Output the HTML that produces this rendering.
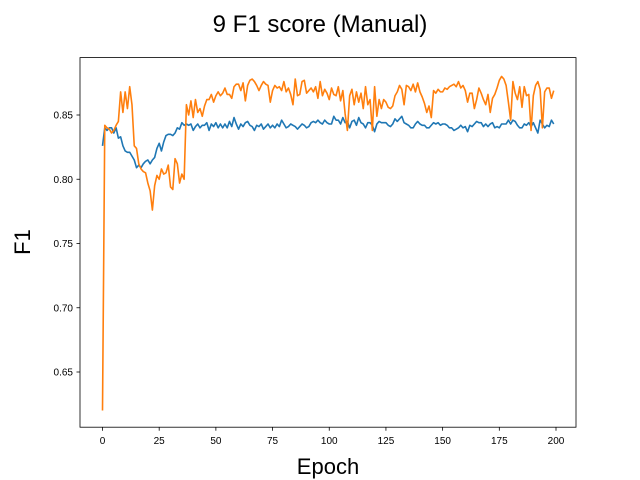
<!DOCTYPE html>
<html><head><meta charset="utf-8"><style>
body{margin:0;background:#fff;}
svg{display:block;font-family:"Liberation Sans","DejaVu Sans",sans-serif;}
</style></head><body>
<svg id="chart" width="640" height="480">
<rect x="0" y="0" width="640" height="480" fill="#fff"/>
<text x="320" y="32" font-size="24" text-anchor="middle">9 F1 score (Manual)</text>
<g id="plot"></g>
<rect x="80" y="57.6" width="496" height="369.6" fill="none" stroke="#000" stroke-width="0.8"/>
<g id="xticks"></g><g id="yticks"></g>
<text x="328" y="474" font-size="22" text-anchor="middle">Epoch</text>
<text x="0" y="0" font-size="22" text-anchor="middle" transform="translate(30,242) rotate(-90)">F1</text>
</svg>
<script>
const xTicks=[0,25,50,75,100,125,150,175,200];
const yTicks=[0.65,0.70,0.75,0.80,0.85];
const yTickLabels=["0.65","0.70","0.75","0.80","0.85"];
const blue=[0.826,0.840,0.838,0.840,0.840,0.836,0.840,0.832,0.833,0.826,0.822,0.821,0.821,0.818,0.815,0.809,0.811,0.809,0.812,0.814,0.815,0.812,0.815,0.817,0.824,0.828,0.822,0.829,0.834,0.835,0.835,0.834,0.836,0.840,0.839,0.844,0.842,0.843,0.842,0.843,0.838,0.841,0.843,0.840,0.842,0.842,0.844,0.838,0.843,0.841,0.844,0.840,0.843,0.840,0.843,0.840,0.845,0.841,0.848,0.843,0.839,0.843,0.841,0.844,0.845,0.842,0.841,0.838,0.842,0.841,0.843,0.839,0.841,0.843,0.840,0.842,0.840,0.843,0.841,0.846,0.843,0.840,0.841,0.843,0.842,0.841,0.839,0.841,0.843,0.842,0.840,0.841,0.844,0.845,0.844,0.846,0.844,0.843,0.846,0.844,0.843,0.843,0.849,0.846,0.846,0.843,0.848,0.844,0.845,0.840,0.845,0.846,0.842,0.848,0.844,0.843,0.840,0.844,0.844,0.842,0.837,0.843,0.845,0.844,0.844,0.844,0.842,0.841,0.843,0.847,0.845,0.847,0.849,0.844,0.843,0.842,0.840,0.840,0.843,0.845,0.843,0.842,0.842,0.840,0.840,0.842,0.844,0.843,0.844,0.842,0.843,0.843,0.842,0.840,0.840,0.838,0.839,0.840,0.842,0.840,0.841,0.837,0.842,0.841,0.843,0.845,0.844,0.844,0.841,0.843,0.841,0.843,0.844,0.840,0.841,0.840,0.843,0.843,0.843,0.846,0.843,0.846,0.845,0.842,0.840,0.840,0.843,0.842,0.844,0.841,0.844,0.840,0.836,0.846,0.843,0.840,0.842,0.841,0.846,0.843,0.840];
const orange=[0.620,0.842,0.840,0.839,0.836,0.838,0.842,0.845,0.868,0.852,0.868,0.855,0.872,0.858,0.826,0.824,0.812,0.808,0.806,0.805,0.797,0.791,0.776,0.795,0.803,0.800,0.808,0.804,0.805,0.811,0.794,0.792,0.816,0.812,0.797,0.804,0.800,0.858,0.850,0.861,0.848,0.862,0.852,0.855,0.849,0.857,0.862,0.862,0.866,0.860,0.865,0.868,0.865,0.867,0.871,0.866,0.866,0.863,0.872,0.874,0.874,0.869,0.875,0.861,0.873,0.877,0.878,0.876,0.873,0.869,0.873,0.876,0.874,0.873,0.860,0.869,0.873,0.871,0.872,0.869,0.876,0.868,0.871,0.866,0.858,0.878,0.865,0.866,0.876,0.877,0.867,0.869,0.871,0.868,0.872,0.863,0.876,0.865,0.870,0.867,0.862,0.871,0.866,0.865,0.872,0.861,0.869,0.851,0.838,0.865,0.870,0.858,0.868,0.860,0.867,0.855,0.872,0.858,0.862,0.838,0.872,0.849,0.862,0.855,0.862,0.860,0.856,0.855,0.857,0.865,0.868,0.873,0.870,0.858,0.873,0.872,0.869,0.874,0.868,0.875,0.868,0.864,0.859,0.852,0.857,0.848,0.869,0.867,0.870,0.868,0.868,0.871,0.870,0.872,0.873,0.874,0.872,0.876,0.871,0.873,0.869,0.860,0.867,0.867,0.855,0.862,0.871,0.867,0.862,0.858,0.866,0.852,0.863,0.866,0.871,0.877,0.880,0.878,0.873,0.860,0.846,0.876,0.867,0.862,0.872,0.856,0.872,0.865,0.866,0.838,0.865,0.873,0.876,0.870,0.840,0.868,0.871,0.871,0.863,0.869,0.866,0.876,0.868,0.875,0.864,0.875];
const NS="http://www.w3.org/2000/svg";
const L=80,R=576,T=57.6,B=427.2;
function xs(v){return 102.5+(v)*(556-102.5)/200;}
function ys(v){return 372+(0.65-v)*1285;}
const plot=document.getElementById('plot');
function line(arr,color,name){
  const p=document.createElementNS(NS,'polyline');
  p.setAttribute('points',arr.slice(0,200).map((v,i)=>xs(i).toFixed(2)+','+ys(v).toFixed(2)).join(' '));
  p.setAttribute('fill','none');p.setAttribute('stroke',color);p.setAttribute('stroke-width','1.6');
  p.setAttribute('stroke-linejoin','round');
  
  
  plot.appendChild(p);
}
line(blue,'#1f77b4','blue-series-line');
line(orange,'#ff7f0e','orange-series-line');
const xg=document.getElementById('xticks');
xTicks.forEach(t=>{
  const l=document.createElementNS(NS,'line');
  l.setAttribute('x1',xs(t));l.setAttribute('x2',xs(t));l.setAttribute('y1',B);l.setAttribute('y2',B+3.5);
  l.setAttribute('stroke','#000');l.setAttribute('stroke-width','0.8');
  
  
  xg.appendChild(l);
  const tx=document.createElementNS(NS,'text');
  tx.setAttribute('x',xs(t));tx.setAttribute('y',B+17);tx.setAttribute('font-size','10');tx.setAttribute('text-anchor','middle');
  tx.textContent=t;
  
  
  xg.appendChild(tx);
});
const yg=document.getElementById('yticks');
yTicks.forEach((t,i)=>{
  const l=document.createElementNS(NS,'line');
  l.setAttribute('x1',L-3.5);l.setAttribute('x2',L);l.setAttribute('y1',ys(t));l.setAttribute('y2',ys(t));
  l.setAttribute('stroke','#000');l.setAttribute('stroke-width','0.8');
  
  
  yg.appendChild(l);
  const tx=document.createElementNS(NS,'text');
  tx.setAttribute('x',L-7);tx.setAttribute('y',ys(t)+3.5);tx.setAttribute('font-size','10');tx.setAttribute('text-anchor','end');
  tx.textContent=yTickLabels[i];
  
  
  yg.appendChild(tx);
});
</script>
</body></html>
